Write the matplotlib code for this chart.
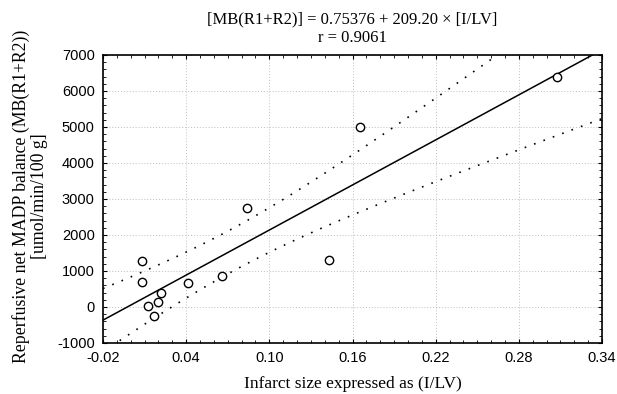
import numpy as np
import matplotlib
matplotlib.use('Agg')
from matplotlib import pyplot as plt
from matplotlib.ticker import MultipleLocator

# data
infarct = [0.0079, 0.0079, 0.0127, 0.0168, 0.0197, 0.0216, 0.0413, 0.0659,
           0.0837, 0.1431, 0.1654, 0.3073]
balance = [1278, 703, 19, -241, 130, 397, 667, 853, 2758, 1306, 4992, 6398]

title_txt = '[MB(R1+R2)] = 0.75376 + 209.20 \u00d7 [I/LV]\nr = 0.9061'
xlab = 'Infarct size expressed as (I/LV)'
ylab = 'Reperfusive net MADP balance (MB(R1+R2))\n[umol/min/100 g]'
xticks = [-0.02, 0.04, 0.10, 0.16, 0.22, 0.28, 0.34]
yticks = [-1000, 0, 1000, 2000, 3000, 4000, 5000, 6000, 7000]

x = np.array(infarct)
y = np.array(balance)
n = len(x)
b, a = np.polyfit(x, y, 1)
resid = y - (a + b * x)
s = np.sqrt(np.sum(resid ** 2) / (n - 2))
t = 2.228  # t(0.975, 10)
xs = np.linspace(-0.02, 0.34, 200)
fit = a + b * xs
se = s * np.sqrt(1 / n + (xs - x.mean()) ** 2 / np.sum((x - x.mean()) ** 2))

serif = ['Liberation Serif', 'DejaVu Serif']
sans = ['Liberation Sans', 'DejaVu Sans']

fig = plt.figure(figsize=(6.17, 3.94), dpi=100)
ax = fig.add_axes([103 / 617, 1 - 343 / 394, 499 / 617, 288 / 394])
ax.plot(xs, fit, color='black', lw=1.1)
ax.plot(xs, fit + t * se, color='black', lw=1.2, ls=(0, (1, 5)))
ax.plot(xs, fit - t * se, color='black', lw=1.2, ls=(0, (1, 5)))
ax.scatter(x, y, s=36, facecolors='white', edgecolors='black', linewidths=1.0, zorder=3)

ax.set_xlim(-0.02, 0.34)
ax.set_ylim(-1000, 7000)
ax.set_xticks(xticks)
ax.set_xticklabels(['%.2f' % v for v in xticks], family=sans, fontsize=10.5)
ax.set_yticks(yticks)
ax.set_yticklabels([str(v) for v in yticks], family=sans, fontsize=10.5)
ax.xaxis.set_minor_locator(MultipleLocator(0.01))
ax.yaxis.set_minor_locator(MultipleLocator(200))
ax.tick_params(which='both', direction='in', top=True, right=True)
ax.tick_params(axis='x', which='major', length=3, width=0.8, pad=6)
ax.tick_params(axis='y', which='major', length=3, width=0.8, pad=6)
ax.tick_params(which='minor', length=2, width=0.6)
ax.grid(True, which='major', color='#bdbdbd', ls=(0, (1, 2)), lw=0.7)
for sp in ax.spines.values():
    sp.set_linewidth(1.2)

ax.set_title(title_txt, family=serif, fontsize=12, linespacing=1.25, pad=9)
ax.set_xlabel(xlab, family=serif, fontsize=12.5, labelpad=8)
ax.set_ylabel(ylab, family=serif, fontsize=12.8, linespacing=1.05, labelpad=8)
ax.yaxis.set_label_coords(-0.11, 0.51)

fig.savefig('out.png', dpi=100)
